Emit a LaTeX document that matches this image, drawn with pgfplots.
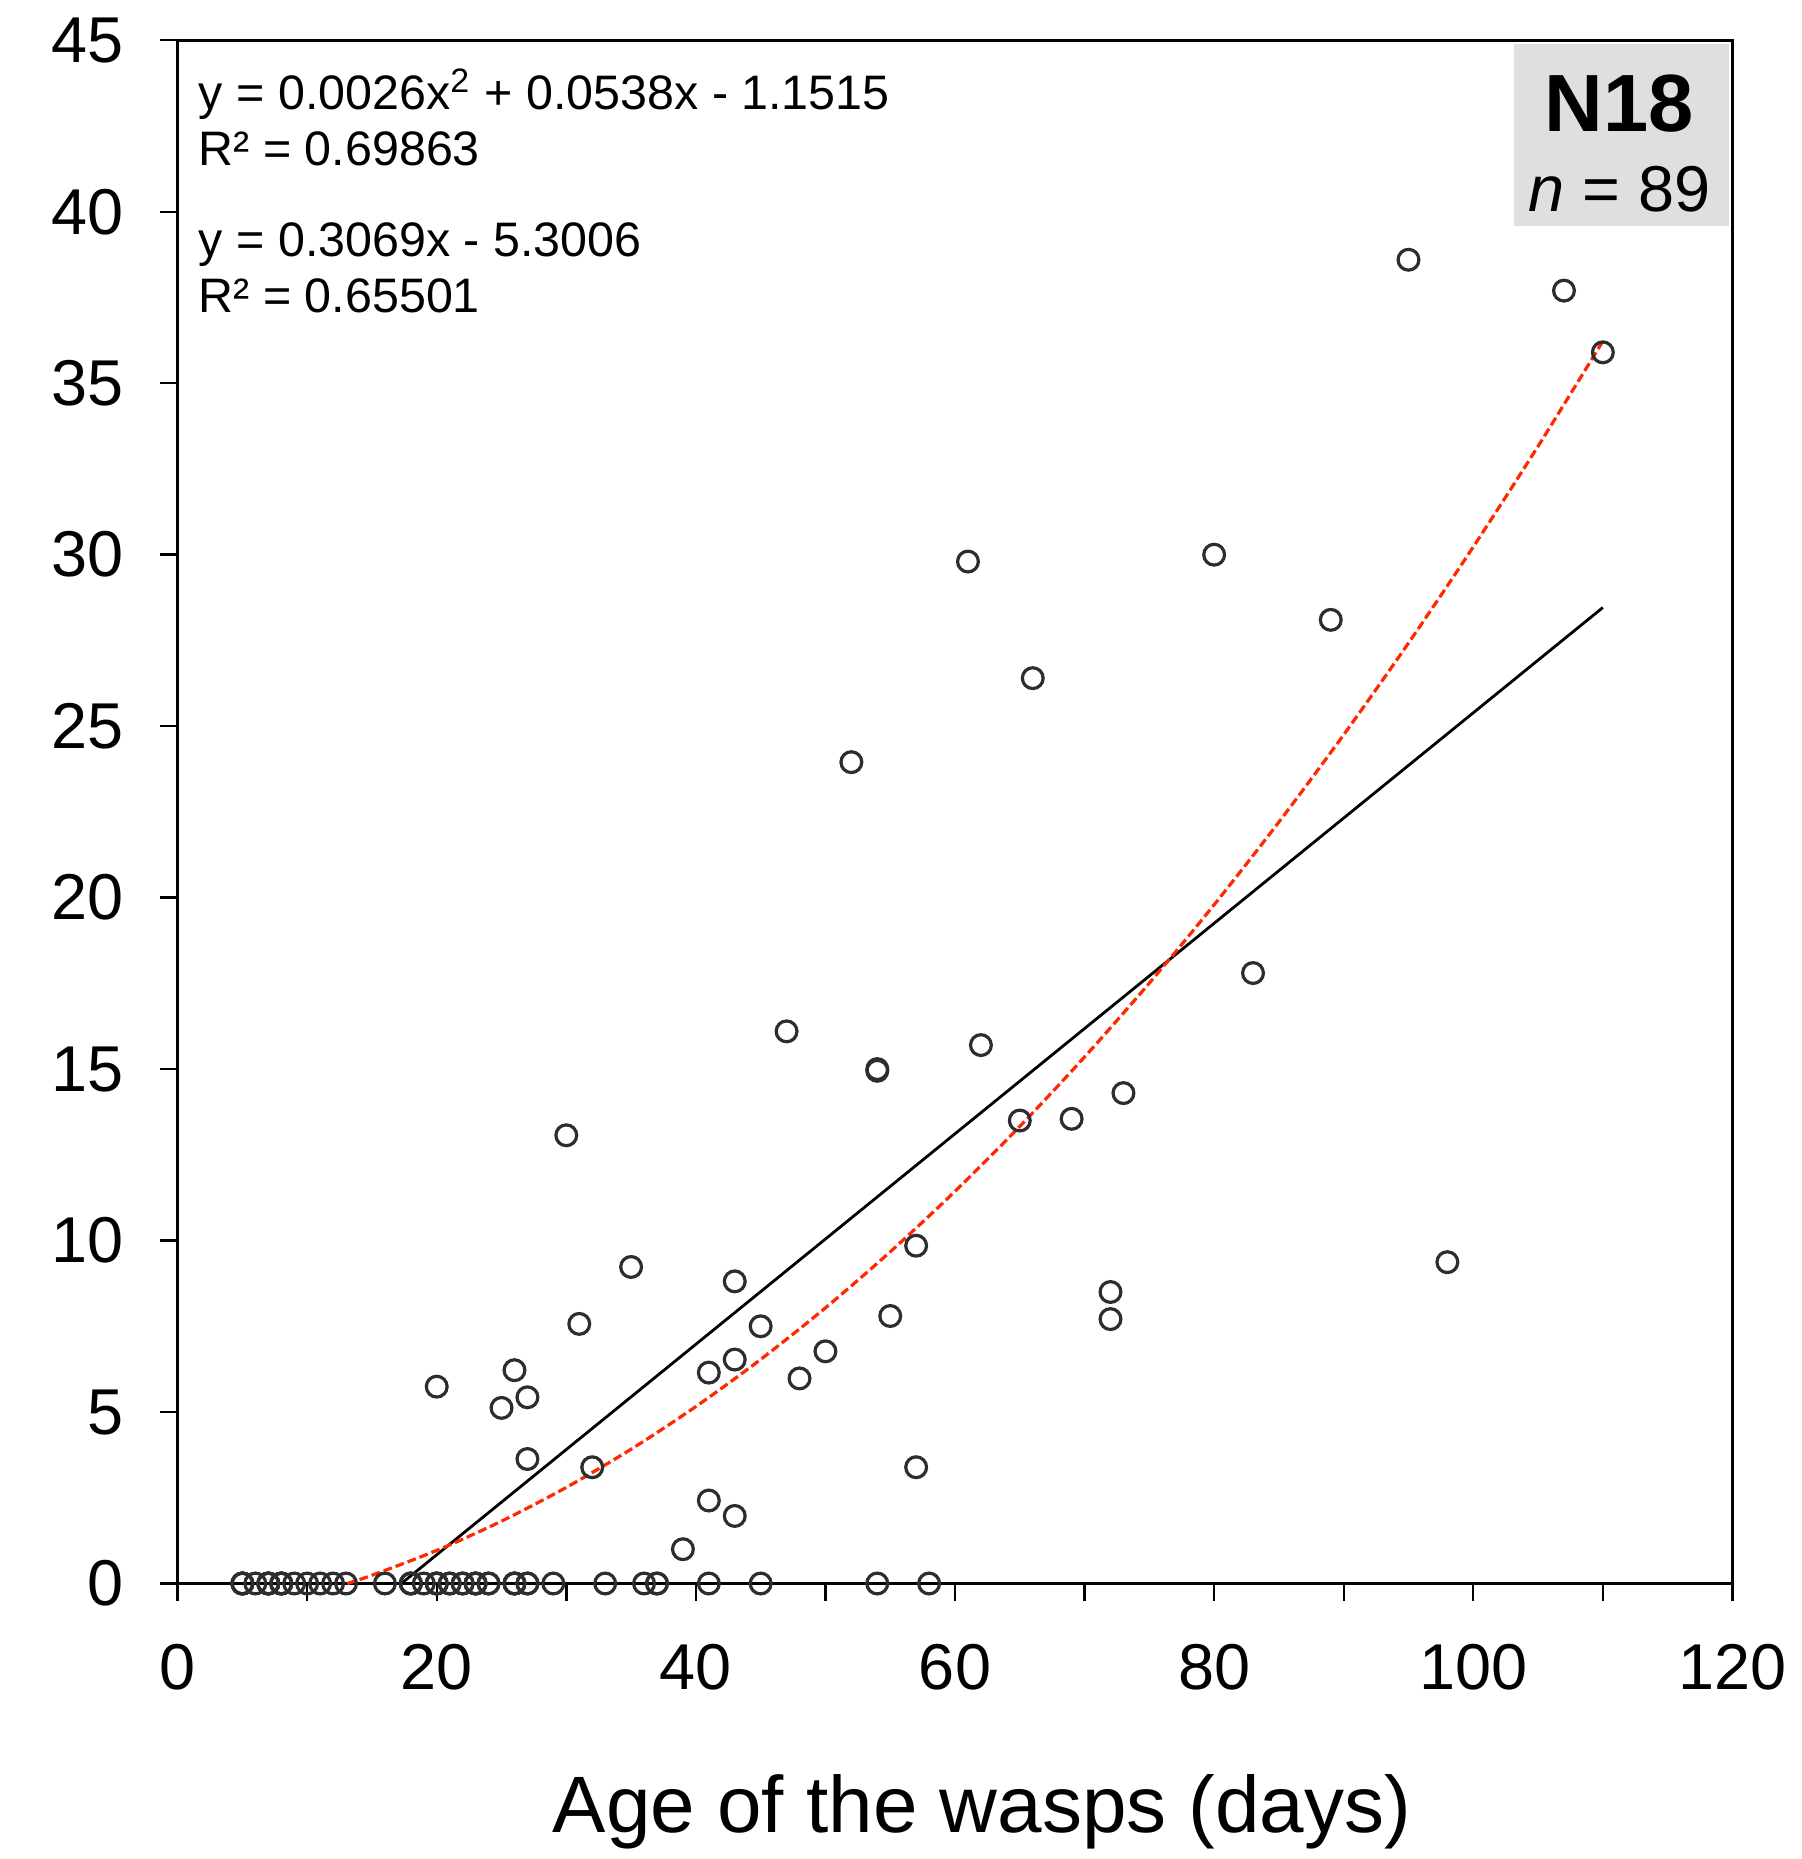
\documentclass[border=0pt]{standalone}
\usepackage{pgfplots}
\pgfplotsset{compat=1.18}
\usepackage{fontspec}
\setmainfont{Liberation Sans}
\definecolor{fitred}{RGB}{255,40,0}
\definecolor{boxgray}{RGB}{223,223,223}
\definecolor{markgray}{RGB}{45,45,45}

\pgfplotstableread{
x y
95 38.6
107 37.7
110 35.9
61 29.8
80 30.0
89 28.1
66 26.4
52 23.95
83 17.8
47 16.1
62 15.7
54 15.0
54 14.95
73 14.3
65 13.5
69 13.55
30 13.07
35 9.23
57 9.85
98 9.37
43 8.81
72 8.5
31 7.57
55 7.8
72 7.71
45 7.5
50 6.77
43 6.53
48 5.98
41 6.15
20 5.74
26 6.22
27 5.43
25 5.12
27 3.63
32 3.39
57 3.39
41 2.42
43 1.97
39 1.0
5 0
5 0
5 0
5 0
6 0
7 0
7 0
7 0
7 0
8 0
8 0
8 0
8 0
9 0
10 0
11 0
12 0
13 0
16 0
18 0
18 0
18 0
19 0
20 0
20 0
20 0
21 0
21 0
22 0
22 0
23 0
23 0
23 0
24 0
24 0
26 0
26 0
26 0
27 0
27 0
29 0
33 0
36 0
37 0
37 0
41 0
45 0
54 0
58 0
}\datatable

\begin{document}
\begin{tikzpicture}
\useasboundingbox (-44.4pt,-68.875pt) rectangle (405.85pt,395.875pt);
\begin{axis}[
  at={(0,0)}, anchor=south west,
  scale only axis, width=388.7pt, height=385.8pt,
  xmin=0, xmax=120, ymin=0, ymax=45,
  xtick={0,20,...,120}, minor xtick={10,30,...,110},
  ytick={0,5,...,45},
  tick align=outside, xtick pos=left, ytick pos=left,
  major tick length=4.3pt, minor tick length=4.3pt,
  every tick/.style={black, line width=0.6pt},
  axis line style={line width=0.65pt},
  tick label style={font=\fontsize{16.2}{19}\selectfont},
  yticklabel style={xshift=-5.6pt},
  xticklabel style={yshift=-7.4pt},
  /pgf/number format/assume math mode=true,
  xlabel={Age of the wasps (days)},
  xlabel style={font=\fontsize{20}{24}\selectfont, at={(axis description cs:0.5174,-0.1477)}, anchor=center},
  clip=false,
]
\fill[boxgray] (rel axis cs:0.8595,0.99767) rectangle (rel axis cs:0.9979,0.8797);
\addplot[only marks, mark=o, mark size=2.6pt, mark options={line width=0.8pt, draw=markgray}] table[x=x,y=y] {\datatable};
\addplot[black, line width=0.7pt] coordinates {(17.27,0) (110,28.459)};
\addplot[fitred, line width=0.8pt, dash pattern=on 2.2pt off 1pt, smooth] coordinates {
(13.1,0) (15,0.2405) (20,0.9645) (25,1.8185) (30,2.8025) (35,3.9165) (40,5.1605)
(45,6.5345) (50,8.0385) (55,9.6725) (60,11.4365) (65,13.3305) (70,15.3545)
(75,17.5085) (80,19.7925) (85,22.2065) (90,24.7505) (95,27.4245) (100,30.2285)
(105,33.1625) (110,36.2265)};
\node[anchor=base west, inner sep=0, font=\fontsize{12.1}{14}\selectfont] at ([xshift=5.1pt, yshift=-17.4pt]rel axis cs:0,1) {y = 0.0026x\textsuperscript{2} + 0.0538x - 1.1515};
\node[anchor=base west, inner sep=0, font=\fontsize{12.1}{14}\selectfont] at ([xshift=5.1pt, yshift=-31.4pt]rel axis cs:0,1) {R² = 0.69863};
\node[anchor=base west, inner sep=0, font=\fontsize{12.1}{14}\selectfont] at ([xshift=5.1pt, yshift=-54pt]rel axis cs:0,1) {y = 0.3069x - 5.3006};
\node[anchor=base west, inner sep=0, font=\fontsize{12.1}{14}\selectfont] at ([xshift=5.1pt, yshift=-68pt]rel axis cs:0,1) {R² = 0.65501};
\node[anchor=base, inner sep=0, font=\fontsize{20.3}{24}\selectfont\bfseries] at ([xshift=360.4pt, yshift=-22.8pt]rel axis cs:0,1) {N18};
\node[anchor=base, inner sep=0, font=\fontsize{16.2}{19}\selectfont] at ([xshift=360.4pt, yshift=-42.7pt]rel axis cs:0,1) {\textit{n} = 89};
\end{axis}
\end{tikzpicture}
\end{document}
